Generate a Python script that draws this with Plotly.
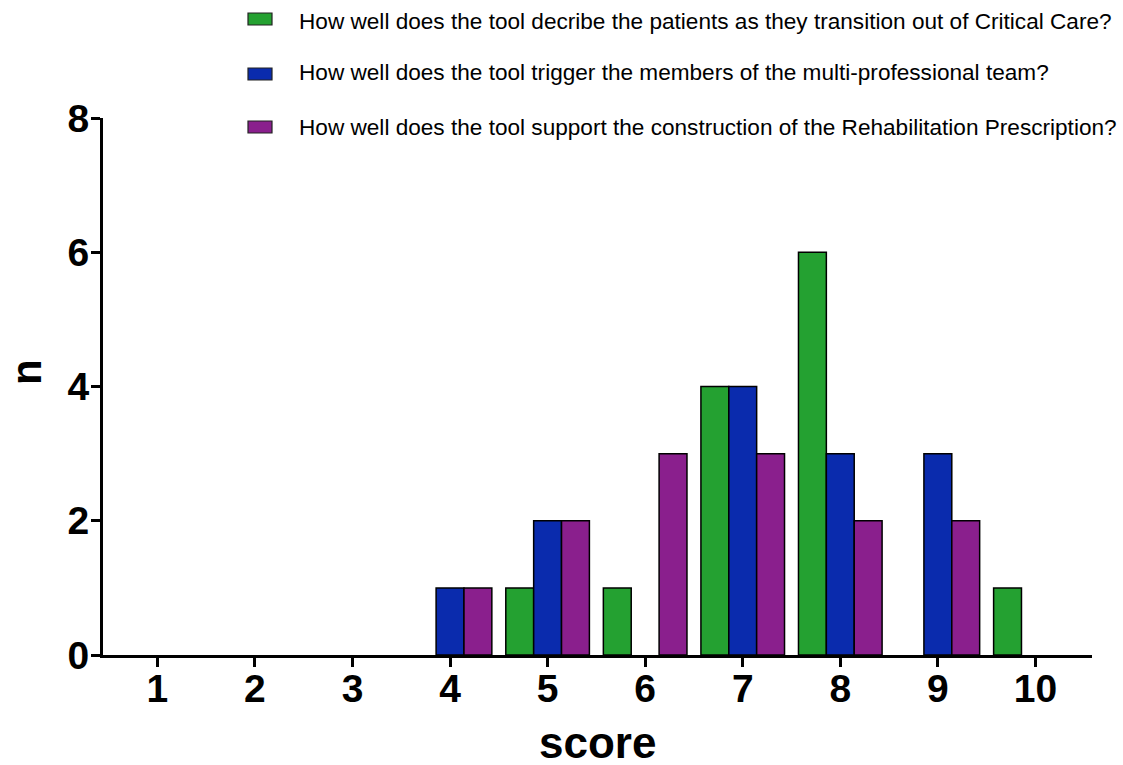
import plotly.graph_objects as go

# ---------------------------------------------------------------------
# Data
# ---------------------------------------------------------------------
scores = [1, 2, 3, 4, 5, 6, 7, 8, 9, 10]
describe_counts = [None, None, None, None, 1, 1, 4, 6, None, 1]
trigger_counts = [None, None, None, 1, 2, None, 4, 3, 3, None]
support_counts = [None, None, None, 1, 2, 3, 3, 2, 2, None]

series_names = [
    "How well does the tool decribe the patients as they transition out of Critical Care?",
    "How well does the tool trigger the members of the multi-professional team?",
    "How well does the tool support the construction of the Rehabilitation Prescription?",
]
series_colors = ["#24A131", "#0A2BAD", "#8A1F8D"]

# ---------------------------------------------------------------------
# Figure
# ---------------------------------------------------------------------
W, H = 1123, 765
L, R, T, B = 103, 31, 118, 110
FONT = "Arial, Liberation Sans, sans-serif"

fig = go.Figure()
for name, vals, col in zip(series_names, [describe_counts, trigger_counts, support_counts], series_colors):
    fig.add_bar(x=scores, y=vals, name=name, marker_color=col,
                marker_line_color="black", marker_line_width=1.5, showlegend=False)


def px_to_paper(px, py):
    return (px - L) / (W - L - R), (H - B - py) / (H - T - B)


# hand-built legend (wide swatches, loose rows like the original)
legend_rows = [(19, 22), (74, 73), (127, 127)]
for (sy, ty), name, col in zip(legend_rows, series_names, series_colors):
    x0, y0 = px_to_paper(248, sy - 6)
    x1, y1 = px_to_paper(272, sy + 6)
    fig.add_shape(type="rect", xref="paper", yref="paper", x0=x0, x1=x1, y0=y0, y1=y1,
                  fillcolor=col, line=dict(color="#222", width=1.2))
    tx, tyy = px_to_paper(299, ty)
    fig.add_annotation(xref="paper", yref="paper", x=tx, y=tyy, text=name, showarrow=False,
                       xanchor="left", yanchor="middle", xshift=-2,
                       font=dict(size=22.6, color="black", family=FONT))

nx, ny = px_to_paper(26, 372)
fig.add_annotation(xref="paper", yref="paper", x=nx, y=ny, text="<b>n</b>", textangle=-90,
                   showarrow=False, xanchor="center", yanchor="middle",
                   font=dict(size=42, color="black", family=FONT))

sx, sy_ = px_to_paper(597, 742)
fig.add_annotation(xref="paper", yref="paper", x=sx, y=sy_, text="<b>score</b>",
                   showarrow=False, xanchor="center", yanchor="middle",
                   font=dict(size=44, color="black", family=FONT))

fig.update_layout(
    width=W, height=H,
    margin=dict(l=L, r=R, t=T, b=B, autoexpand=False),
    paper_bgcolor="white", plot_bgcolor="white",
    barmode="group", bargap=0.143, bargroupgap=0,
    font=dict(family=FONT, color="black"),
)
fig.update_xaxes(
    range=[0.443, 10.58], tickvals=scores, ticktext=[f"<b>{s}</b>" for s in scores],
    showline=True, linecolor="black", linewidth=3, ticks="outside", ticklen=9, tickwidth=3,
    tickcolor="black", tickfont=dict(size=39, family=FONT), showgrid=False, zeroline=False,
    automargin=False, ticklabelstandoff=-12,
)
fig.update_yaxes(
    range=[0, 8], tickvals=[0, 2, 4, 6, 8], ticktext=["<b>0</b>", "<b>2</b>", "<b>4</b>", "<b>6</b>", "<b>8</b>"],
    showline=True, linecolor="black", linewidth=3, ticks="outside", ticklen=9, tickwidth=3,
    tickcolor="black", tickfont=dict(size=39, family=FONT), showgrid=False, zeroline=False,
    automargin=False, ticklabelstandoff=-6,
)

# drop the browser's default 8px body margin so the figure fills the window
fig.write_html("out.html", config={"displayModeBar": False},
               post_script="document.body.style.margin='0';document.body.style.overflow='hidden';")
